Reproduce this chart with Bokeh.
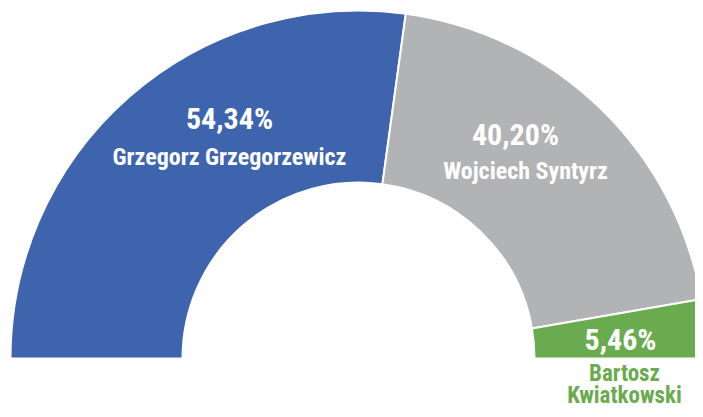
import math
from bokeh.plotting import figure
from bokeh.models import Range1d
from bokeh.core.properties import value
from bokeh.embed import file_html
from bokeh.resources import INLINE

# ---- data ----
names = ["Grzegorz Grzegorzewicz", "Wojciech Syntyrz", "Bartosz Kwiatkowski"]
shares = [54.34, 40.20, 5.46]
pct_labels = ["54,34%", "40,20%", "5,46%"]
colors = ["#3D64AD", "#B1B3B4", "#6BAB4F"]

# ---- layout (pixel coords, y downward) ----
W, H = 695, 409
cx, cy = 358, 358
r_out, r_in = 348, 176
FONT = "Liberation Sans Narrow, Roboto Condensed, Open Sans, sans-serif"

p = figure(width=W, height=H, output_backend="svg", toolbar_location=None,
           x_range=Range1d(0, W), y_range=Range1d(-H, 0),
           min_border=0)
p.axis.visible = False
p.grid.visible = False
p.outline_line_color = None
p.background_fill_color = "white"
p.border_fill_color = "white"

total = sum(shares)
start = math.pi
starts, ends = [], []
for s in shares:
    a = s / total * math.pi
    starts.append(start - a)
    ends.append(start)
    start -= a

p.annular_wedge(x=[cx] * 3, y=[-cy] * 3, inner_radius=r_in, outer_radius=r_out,
                start_angle=starts, end_angle=ends, fill_color=colors,
                line_color="white", line_width=2)

# label layout: (x, y of text middle)
pct_pos = [(229, 118), (515, 134), (620, 339)]
name_pos = [(229, 156), (525, 170), (624, 373)]

for i in range(3):
    x, yb = pct_pos[i]
    p.text(x=[x], y=[-yb], text=[pct_labels[i]], text_color="white",
           text_font=value(FONT), text_font_style="bold", text_font_size="30px",
           text_align="center", text_baseline="middle")

for i in range(2):
    x, yb = name_pos[i]
    p.text(x=[x], y=[-yb], text=[names[i]], text_color="white",
           text_font=value(FONT), text_font_style="bold", text_font_size="24px",
           text_align="center", text_baseline="middle")

x, yb = name_pos[2]
parts = names[2].split(" ")
for j, part in enumerate(parts):
    p.text(x=[x], y=[-(yb + j * 22)], text=[part], text_color=colors[2],
           text_font=value(FONT), text_font_style="bold", text_font_size="23px",
           text_align="center", text_baseline="middle")

open("out.html", "w").write(file_html(p, INLINE))
